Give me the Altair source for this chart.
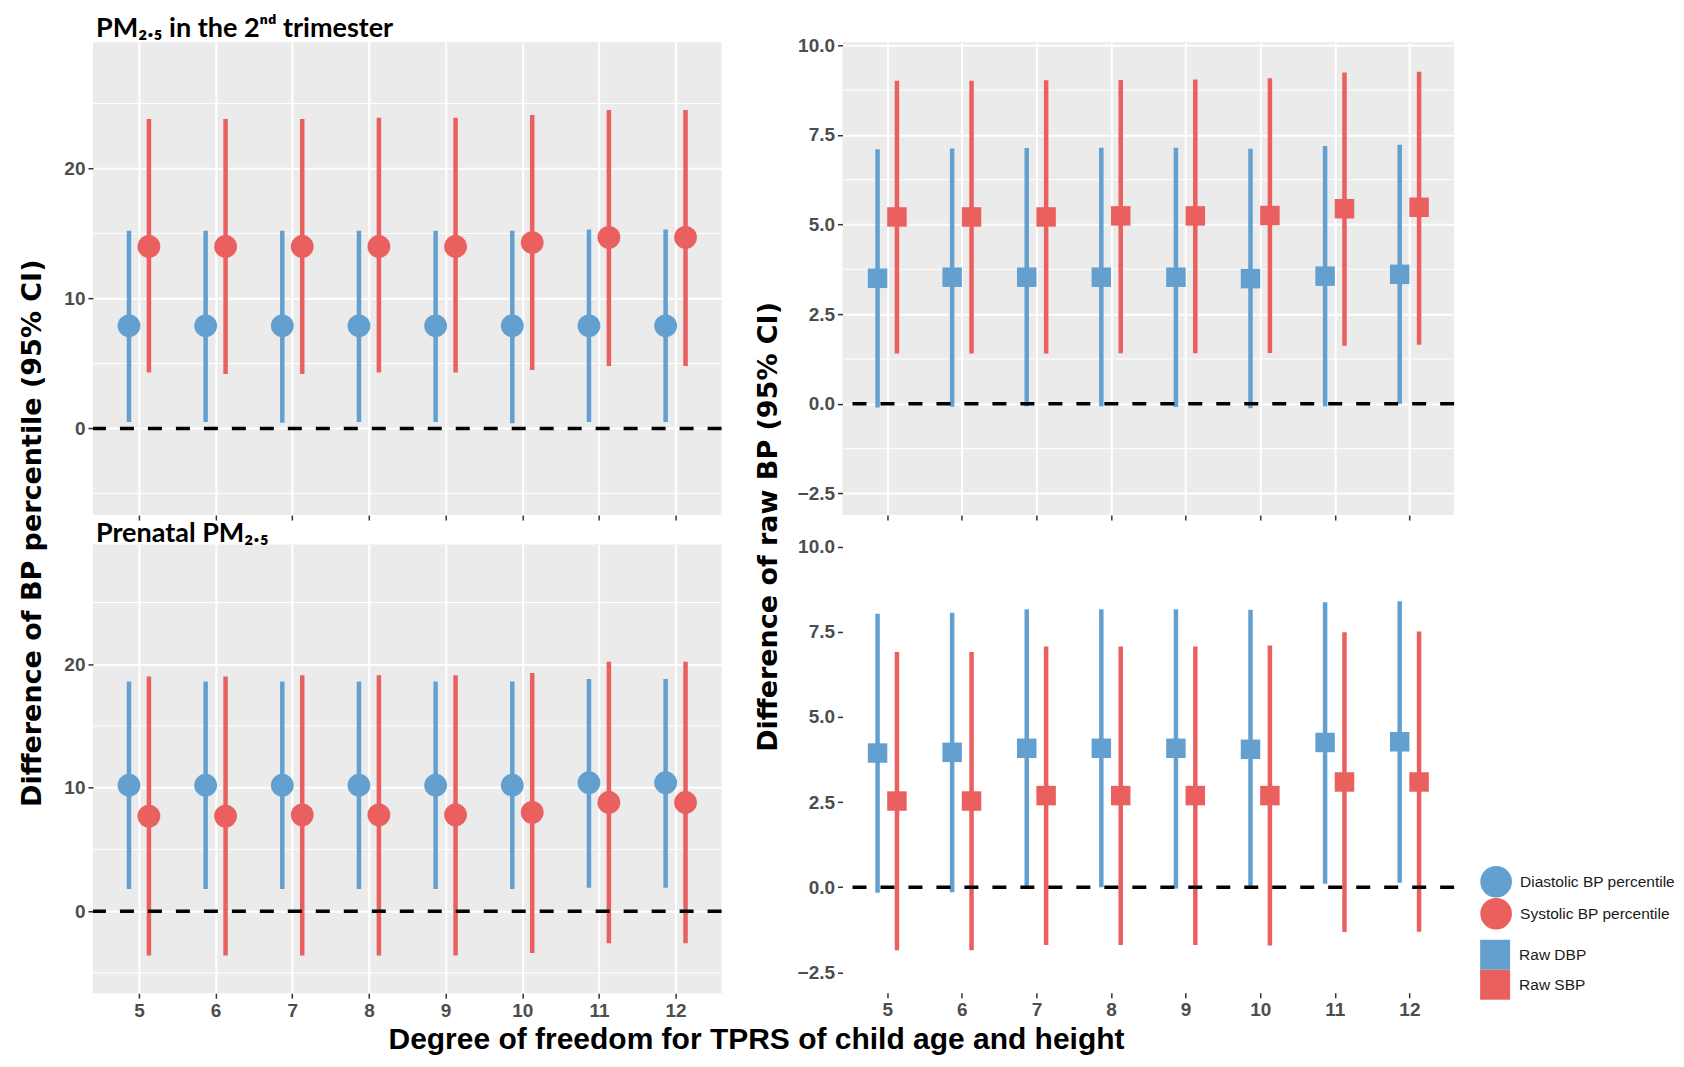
import altair as alt
import pandas as pd

# ---------------- data ----------------
DF = [5, 6, 7, 8, 9, 10, 11, 12]
PCT_SERIES = ["Diastolic BP percentile", "Systolic BP percentile"]
RAW_SERIES = ["Raw DBP", "Raw SBP"]
COLORS = ["#64A0CF", "#E9605F"]

# PM2.5 in the 2nd trimester - BP percentile
dbp_pct_2nd_est = [7.9, 7.9, 7.9, 7.9, 7.9, 7.9, 7.9, 7.9]
dbp_pct_2nd_lo = [0.5, 0.5, 0.45, 0.5, 0.5, 0.4, 0.5, 0.5]
dbp_pct_2nd_hi = [15.2, 15.2, 15.2, 15.2, 15.2, 15.2, 15.3, 15.3]
sbp_pct_2nd_est = [14.0, 14.0, 14.0, 14.0, 14.0, 14.3, 14.7, 14.7]
sbp_pct_2nd_lo = [4.3, 4.2, 4.2, 4.3, 4.3, 4.5, 4.8, 4.8]
sbp_pct_2nd_hi = [23.8, 23.8, 23.8, 23.9, 23.9, 24.1, 24.5, 24.5]

# Prenatal PM2.5 - BP percentile
dbp_pct_pre_est = [10.2, 10.2, 10.2, 10.2, 10.2, 10.2, 10.4, 10.4]
dbp_pct_pre_lo = [1.8, 1.8, 1.8, 1.8, 1.8, 1.8, 1.9, 1.9]
dbp_pct_pre_hi = [18.6, 18.6, 18.6, 18.6, 18.6, 18.6, 18.8, 18.8]
sbp_pct_pre_est = [7.7, 7.7, 7.8, 7.8, 7.8, 8.0, 8.8, 8.8]
sbp_pct_pre_lo = [-3.6, -3.6, -3.6, -3.6, -3.6, -3.4, -2.6, -2.6]
sbp_pct_pre_hi = [19.0, 19.0, 19.1, 19.1, 19.1, 19.3, 20.2, 20.2]

# PM2.5 in the 2nd trimester - raw BP
dbp_raw_2nd_est = [3.50, 3.53, 3.53, 3.53, 3.53, 3.49, 3.56, 3.61]
dbp_raw_2nd_lo = [-0.10, -0.08, -0.07, -0.07, -0.09, -0.12, -0.07, 0.00]
dbp_raw_2nd_hi = [7.10, 7.12, 7.13, 7.14, 7.14, 7.11, 7.19, 7.22]
sbp_raw_2nd_est = [5.21, 5.21, 5.21, 5.24, 5.24, 5.25, 5.44, 5.48]
sbp_raw_2nd_lo = [1.40, 1.40, 1.40, 1.41, 1.41, 1.42, 1.62, 1.65]
sbp_raw_2nd_hi = [9.01, 9.01, 9.02, 9.03, 9.04, 9.08, 9.24, 9.26]

# Prenatal PM2.5 - raw BP
dbp_raw_pre_est = [3.94, 3.96, 4.08, 4.08, 4.08, 4.05, 4.25, 4.27]
dbp_raw_pre_lo = [-0.16, -0.15, 0.00, 0.00, -0.04, -0.05, 0.10, 0.13]
dbp_raw_pre_hi = [8.03, 8.06, 8.16, 8.16, 8.16, 8.15, 8.37, 8.40]
sbp_raw_pre_est = [2.53, 2.53, 2.69, 2.69, 2.69, 2.69, 3.09, 3.09]
sbp_raw_pre_lo = [-1.85, -1.85, -1.70, -1.70, -1.70, -1.71, -1.32, -1.31]
sbp_raw_pre_hi = [6.91, 6.91, 7.07, 7.07, 7.07, 7.10, 7.49, 7.51]

PCT_MAJOR = [0, 10, 20]
PCT_MINOR = [-5, 5, 15, 25]
RAW_MAJOR = [-2.5, 0.0, 2.5, 5.0, 7.5, 10.0]
RAW_MINOR = [-1.25, 1.25, 3.75, 6.25, 8.75]
ZERO = [0]

TITLE_TOP = "PM\u2082.\u2085 in the 2\u207f\u1d48 trimester"
TITLE_BOTTOM = "Prenatal PM\u2082.\u2085"
YTITLE_LEFT = "Difference of BP percentile (95% CI)"
YTITLE_RIGHT = "Difference of raw BP (95% CI)"
XTITLE = "Degree of freedom for TPRS of child age and height"


def build(series, de, dl, dh, se, sl, sh):
    rows = []
    for i, d in enumerate(DF):
        rows.append({"df": d, "series": series[0], "grp": 0, "est": de[i], "lo": dl[i], "hi": dh[i]})
        rows.append({"df": d, "series": series[1], "grp": 1, "est": se[i], "lo": sl[i], "hi": sh[i]})
    return pd.DataFrame(rows)


pct_2nd = build(PCT_SERIES, dbp_pct_2nd_est, dbp_pct_2nd_lo, dbp_pct_2nd_hi, sbp_pct_2nd_est, sbp_pct_2nd_lo, sbp_pct_2nd_hi)
pct_pre = build(PCT_SERIES, dbp_pct_pre_est, dbp_pct_pre_lo, dbp_pct_pre_hi, sbp_pct_pre_est, sbp_pct_pre_lo, sbp_pct_pre_hi)
raw_2nd = build(RAW_SERIES, dbp_raw_2nd_est, dbp_raw_2nd_lo, dbp_raw_2nd_hi, sbp_raw_2nd_est, sbp_raw_2nd_lo, sbp_raw_2nd_hi)
raw_pre = build(RAW_SERIES, dbp_raw_pre_est, dbp_raw_pre_lo, dbp_raw_pre_hi, sbp_raw_pre_est, sbp_raw_pre_lo, sbp_raw_pre_hi)

TICK_FONT = "Liberation Sans"
TITLE_FONT = "Lato"
DODGE = 0.13
LEG_FONT = 15.5


def panel(data, series, shape, w, h, ydom, ymajor, yminor, yfmt, show_x_labels,
          title_text, title_dy, with_legend=False):
    cscale = alt.Scale(domain=series, range=COLORS)
    xs = alt.Scale(domain=[4.4, 12.6], nice=False, zero=False)
    ys = alt.Scale(domain=ydom, nice=False, zero=False)
    common = dict(title=None, domain=False, grid=True, gridColor="white", gridWidth=2,
                  ticks=True, tickSize=5, tickWidth=1.5, tickColor="#333333",
                  labelFont=TICK_FONT, labelFontSize=19, labelFontWeight="bold",
                  labelColor="#4D4D4D", labelPadding=3)
    xaxis = alt.Axis(values=DF, format="d", labels=show_x_labels, **common)
    yaxis = alt.Axis(values=ymajor, format=yfmt, **common)

    minor = alt.Chart(pd.DataFrame({"v": yminor})).mark_rule(
        color="white", strokeWidth=1).encode(y=alt.Y("v:Q", scale=ys, axis=yaxis))

    if with_legend:
        leg = alt.Legend(title=None, orient="none", legendX=638, legendY=396,
                         symbolType="square", symbolSize=900, symbolStrokeWidth=0,
                         symbolOpacity=1, rowPadding=0, padding=0,
                         labelFont=TICK_FONT, labelFontSize=LEG_FONT, labelColor="#1a1a1a",
                         labelOffset=9)
    else:
        leg = None

    base = alt.Chart(data).transform_calculate(
        xp=f"datum.df + (datum.grp == 0 ? -{DODGE} : {DODGE})")
    bars = base.mark_rule(strokeWidth=4.5).encode(
        x=alt.X("xp:Q", scale=xs, axis=xaxis),
        y=alt.Y("lo:Q", scale=ys),
        y2="hi:Q",
        stroke=alt.Stroke("series:N", scale=cscale, legend=leg),
    )
    zero = alt.Chart(pd.DataFrame({"v": ZERO})).mark_rule(
        color="black", strokeWidth=3.5, strokeDash=[14, 14]).encode(y=alt.Y("v:Q", scale=ys))

    if shape == "circle":
        pts = base.mark_circle(size=520, opacity=1).encode(
            x="xp:Q", y="est:Q", fill=alt.Fill("series:N", scale=cscale, legend=leg))
    else:
        pts = base.mark_square(size=380, opacity=1).encode(
            x="xp:Q", y="est:Q", fill=alt.Fill("series:N", scale=cscale, legend=leg))

    layers = [minor, bars, zero, pts]
    if with_legend:
        pct_leg = alt.Chart(pct_pre).transform_filter("false").transform_calculate(
            pct_series="datum.series"
        ).mark_circle(size=520, opacity=1).encode(
            color=alt.Color("pct_series:N", scale=alt.Scale(domain=PCT_SERIES, range=COLORS),
                            legend=alt.Legend(title=None, orient="none", legendX=638, legendY=322,
                                              symbolType="circle", symbolSize=1000,
                                              symbolStrokeWidth=0, symbolOpacity=1,
                                              rowPadding=-2, padding=0,
                                              labelFont=TICK_FONT, labelFontSize=LEG_FONT,
                                              labelColor="#1a1a1a", labelOffset=8)))
        layers.append(pct_leg)

    return alt.layer(*layers).properties(
        width=w, height=h,
        title=alt.TitleParams(title_text, anchor="start", frame="group", font=TITLE_FONT,
                              fontSize=27, fontWeight="bold", color="black",
                              offset=0, dx=3, dy=title_dy),
    )


W_L, W_R, H_T, H_B = 629, 612, 473, 449
PCT_DOM = [-6.65, 29.7]
RAW_DOM = [-3.1, 10.08]

tl = panel(pct_2nd, PCT_SERIES, "circle", W_L, H_T, PCT_DOM, PCT_MAJOR, PCT_MINOR, "d", False, TITLE_TOP, 1)
bl = panel(pct_pre, PCT_SERIES, "circle", W_L, H_B, PCT_DOM, PCT_MAJOR, PCT_MINOR, "d", True, TITLE_BOTTOM, 3.5)
tr = panel(raw_2nd, RAW_SERIES, "square", W_R, H_T, RAW_DOM, RAW_MAJOR, RAW_MINOR, ".1f", False, " ", 1)
br = panel(raw_pre, RAW_SERIES, "square", W_R, H_B, RAW_DOM, RAW_MAJOR, RAW_MINOR, ".1f", True, " ", 3.5, with_legend=True)

RES = dict(stroke="independent", fill="independent", color="independent")

left = alt.vconcat(tl, bl, spacing=-1.5).properties(
    title=alt.TitleParams(YTITLE_LEFT, orient="left", anchor="middle", font="DejaVu Sans",
                          fontSize=27, fontWeight="bold", color="black", offset=17, dx=-15.5)
).resolve_scale(**RES).resolve_legend(**RES)

right = alt.vconcat(tr, br, spacing=-8).properties(
    title=alt.TitleParams(YTITLE_RIGHT, orient="left", anchor="middle", font="DejaVu Sans",
                          fontSize=27, fontWeight="bold", color="black", offset=14, dx=-12.5)
).resolve_scale(**RES).resolve_legend(**RES)

chart = alt.hconcat(left, right, spacing=31).properties(
    title=alt.TitleParams(XTITLE, orient="bottom", anchor="middle", font="Liberation Sans",
                          fontSize=30, fontWeight="bold", color="black", offset=5, dx=-91),
    padding={"left": 10, "top": 0, "right": 0, "bottom": 0},
    background="white",
).resolve_scale(**RES).resolve_legend(**RES).configure_view(
    fill="#EBEBEB", stroke=None
)

chart.save("out.html", embed_options={"renderer": "svg", "actions": False})
